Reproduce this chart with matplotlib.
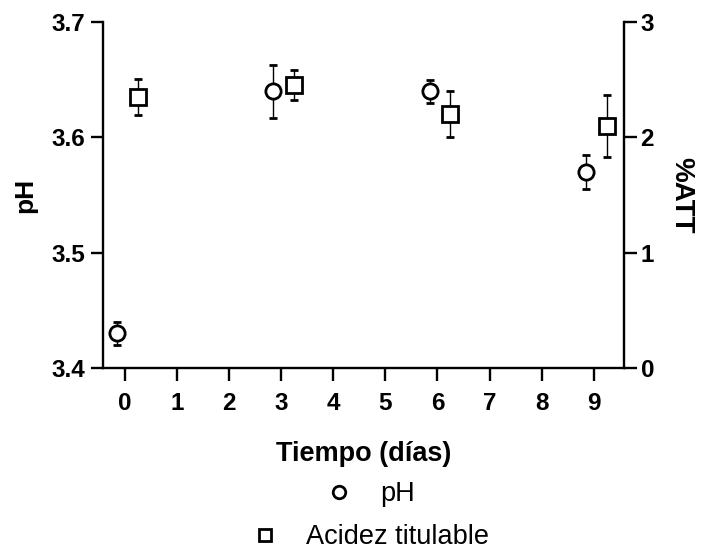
"""pH y acidez titulable durante el almacenamiento."""

import numpy as np
import matplotlib
matplotlib.use("Agg")
import matplotlib.pyplot as plt
from matplotlib.lines import Line2D

plt.rcParams['font.family'] = ['Liberation Sans', 'DejaVu Sans']

dias = [0, 3, 6, 9]
ph = [3.43, 3.64, 3.64, 3.57]
ph_err = [0.01, 0.023, 0.01, 0.015]
att = [2.35, 2.45, 2.20, 2.10]
att_err = [0.16, 0.13, 0.20, 0.27]
x_ticks = list(range(10))

desp_ph, desp_att = -0.15, 0.25

fig = plt.figure(figsize=(7.03, 5.5), dpi=100)
ax = fig.add_axes([0.1465, 0.331, 0.741, 0.629])
ax2 = ax.twinx()

mk = dict(ls='none', mfc='white', mec='black', mew=2.0, ms=11,
          ecolor='black', elinewidth=1.0, capsize=3, capthick=1.0)
ax.errorbar(np.array(dias) + desp_ph, ph, yerr=ph_err, marker='o', **mk)
ax2.errorbar(np.array(dias) + desp_att, att, yerr=att_err, marker='s', **mk)

ax.set_xlim(-0.42, 9.58)
ax.set_ylim(3.4, 3.7)
ax.set_yticks([3.4, 3.5, 3.6, 3.7])
ax.set_xticks(x_ticks)
ax2.set_ylim(0, 3)
ax2.set_yticks([0, 1, 2, 3])

for a in (ax, ax2):
    for s in a.spines.values():
        s.set_linewidth(1.7)
    a.spines['top'].set_visible(False)
ax.spines['right'].set_visible(False)
ax2.spines['left'].set_visible(False)
ax2.spines['bottom'].set_visible(False)

ax.tick_params(axis='both', direction='out', length=9, width=1.7, labelsize=17.5)
ax.tick_params(axis='y', pad=4)
ax.tick_params(axis='x', pad=8)
ax2.tick_params(axis='y', direction='out', length=9, width=1.7, labelsize=17.5, pad=3)
for lab in ax.get_xticklabels() + ax.get_yticklabels() + ax2.get_yticklabels():
    lab.set_fontweight('bold')

ax.set_xlabel('Tiempo (días)', fontsize=19.5, fontweight='bold', labelpad=19)
ax.set_ylabel('pH', fontsize=19, fontweight='bold', labelpad=10)
ax2.set_ylabel('%ATT', fontsize=20, fontweight='bold', rotation=-90, labelpad=29)

h_ph = Line2D([], [], ls='none', marker='o', mfc='white', mec='black', mew=2.0, ms=9)
h_att = Line2D([], [], ls='none', marker='s', mfc='white', mec='black', mew=2.0, ms=9)
leg_kw = dict(loc='center', frameon=False, fontsize=19.5, handlelength=1.0,
              handletextpad=1.0, borderpad=0, borderaxespad=0)
fig.legend([h_ph], ['pH'], bbox_to_anchor=(370 / 703, 1 - 494 / 550), **leg_kw)
fig.legend([h_att], ['Acidez titulable'], bbox_to_anchor=(370 / 703, 1 - 537 / 550), **leg_kw)

fig.savefig('out.png', dpi=100)
